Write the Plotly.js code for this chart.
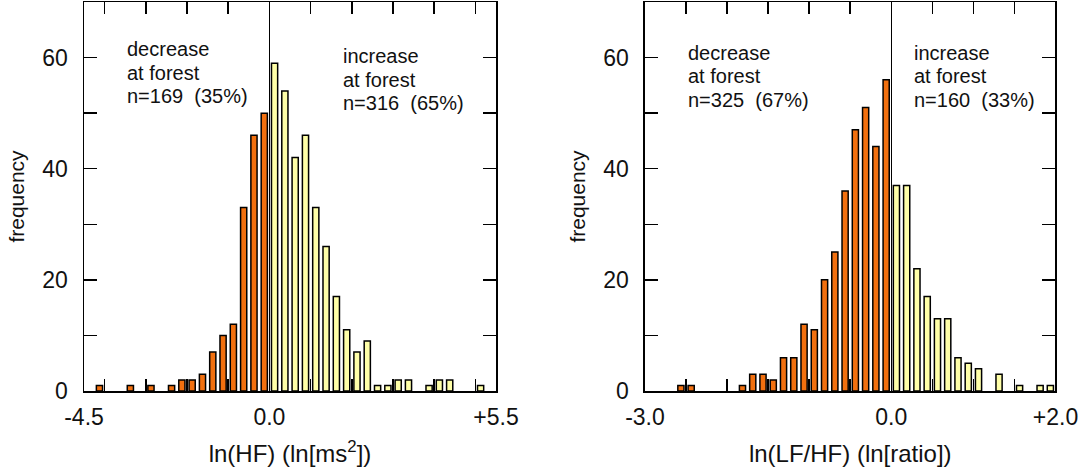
<!DOCTYPE html>
<html>
<head>
<meta charset="utf-8">
<script src="https://cdn.plot.ly/plotly-3.0.1.min.js"></script>
<style>
  html, body { margin: 0; padding: 0; background: #fff; }
  #chart { width: 1084px; height: 472px; }
</style>
</head>
<body>
<div id="chart"></div>
<script>
// ---- left panel: ln(HF), bins of 0.25 ----
var hfDecX = [-4.125, -3.375, -2.875, -2.375, -2.125, -1.875, -1.625, -1.375, -1.125, -0.875, -0.625, -0.375, -0.125];
var hfDecN = [1, 1, 1, 1, 2, 2, 3, 7, 10, 12, 33, 46, 50];
var hfIncX = [0.125, 0.375, 0.625, 0.875, 1.125, 1.375, 1.625, 1.875, 2.125, 2.375, 2.625, 2.875, 3.125, 3.375, 3.875, 4.125, 4.375, 5.125];
var hfIncN = [59, 54, 42, 46, 33, 26, 17, 11, 7, 9, 1, 1, 2, 2, 1, 2, 2, 1];

// ---- right panel: ln(LF/HF), bins of 0.125 ----
var lfDecX = [-2.5625, -2.4375, -1.8125, -1.6875, -1.5625, -1.4375, -1.3125, -1.1875, -1.0625, -0.9375, -0.8125, -0.6875, -0.5625, -0.4375, -0.3125, -0.1875, -0.0625];
var lfDecN = [1, 1, 1, 3, 3, 2, 6, 6, 12, 11, 20, 25, 36, 47, 51, 44, 56];
var lfIncX = [0.0625, 0.1875, 0.3125, 0.4375, 0.5625, 0.6875, 0.8125, 0.9375, 1.0625, 1.3125, 1.5625, 1.8125, 1.9375];
var lfIncN = [37, 37, 22, 17, 13, 13, 6, 5, 4, 3, 1, 1, 1];

// tick positions / labels
var hfTickVals = [-4.5, -4, -3, -2, -1, 0, 1, 2, 3, 4, 5, 5.5];
var hfTickText = ['-4.5', ' ', ' ', ' ', ' ', '0.0', ' ', ' ', ' ', ' ', ' ', '+5.5'];
var lfTickVals = [-3, -2.5, -2, -1.5, -1, -0.5, 0, 0.5, 1, 1.5, 2];
var lfTickText = ['-3.0', ' ', ' ', ' ', ' ', ' ', '0.0', ' ', ' ', ' ', '+2.0'];
var yTickVals = [0, 10, 20, 30, 40, 50, 60];
var yTickText = ['0', ' ', '20', ' ', '40', ' ', '60'];

var labelLines = {
  hfDec: ['decrease', 'at forest', 'n=169  (35%)'],
  hfInc: ['increase', 'at forest', 'n=316  (65%)'],
  lfDec: ['decrease', 'at forest', 'n=325  (67%)'],
  lfInc: ['increase', 'at forest', 'n=160  (33%)']
};

var ORANGE = '#f2700f';
var YELLOW = '#ffffa8';
var FONT = 'Liberation Sans, Arial, sans-serif';

function bars(x, y, color, w, xa, ya) {
  return {
    type: 'bar', x: x, y: y, width: w,
    xaxis: xa, yaxis: ya,
    marker: { color: color, line: { color: '#000', width: 1.5 } },
    hoverinfo: 'x+y', showlegend: false
  };
}

var data = [
  bars(hfDecX, hfDecN, ORANGE, 0.25 * 0.6, 'x', 'y'),
  bars(hfIncX, hfIncN, YELLOW, 0.25 * 0.6, 'x', 'y'),
  bars(lfDecX, lfDecN, ORANGE, 0.125 * 0.6, 'x2', 'y2'),
  bars(lfIncX, lfIncN, YELLOW, 0.125 * 0.6, 'x2', 'y2')
];

function xAxis(dom, range, vals, text, title, anchor) {
  return {
    domain: dom, range: range, anchor: anchor,
    tickmode: 'array', tickvals: vals, ticktext: text, tickangle: 0,
    ticks: 'inside', ticklen: 12, tickwidth: 1.5, tickcolor: '#000',
    ticklabelstandoff: 5,
    showline: true, linecolor: '#000', linewidth: 1.5, mirror: 'allticks',
    showgrid: false, zeroline: true, zerolinecolor: '#000', zerolinewidth: 1.5,
    layer: 'below traces', automargin: false, fixedrange: true,
    tickfont: { size: 23, color: '#111' },
    title: { text: title, font: { size: 24, color: '#111' }, standoff: 16 }
  };
}

function yAxis(anchor) {
  return {
    domain: [0, 1], range: [0, 70], anchor: anchor,
    tickmode: 'array', tickvals: yTickVals, ticktext: yTickText,
    ticks: 'inside', ticklen: 13, tickwidth: 1.5, tickcolor: '#000',
    ticklabelstandoff: 10,
    showline: true, linecolor: '#000', linewidth: 1.5, mirror: 'allticks',
    showgrid: false, zeroline: false,
    layer: 'below traces', automargin: false, fixedrange: true,
    tickfont: { size: 23, color: '#111' },
    title: { text: 'frequency', font: { size: 21, color: '#111' }, standoff: 12 }
  };
}

// annotation blocks, one per text line
function block(lines, x, yTop, xa, ya) {
  return lines.map(function (t, i) {
    return {
      text: t, x: x, y: yTop - i * 4.2, xref: xa, yref: ya,
      xanchor: 'left', yanchor: 'middle', showarrow: false,
      font: { size: 20, color: '#111' }
    };
  });
}

var annotations = []
  .concat(block(labelLines.hfDec, -3.5, 61.5, 'x', 'y'))
  .concat(block(labelLines.hfInc, 1.74, 60.2, 'x', 'y'))
  .concat(block(labelLines.lfDec, -2.5, 60.8, 'x2', 'y2'))
  .concat(block(labelLines.lfInc, 0.25, 60.8, 'x2', 'y2'));

var layout = {
  width: 1084, height: 472,
  margin: { l: 0, r: 0, t: 2, b: 81 },
  paper_bgcolor: '#fff', plot_bgcolor: '#fff',
  font: { family: FONT, color: '#111' },
  barmode: 'overlay',
  xaxis: xAxis([0.0775, 0.4576], [-4.5, 5.5], hfTickVals, hfTickText, 'ln(HF) (ln[ms<sup>2</sup>])', 'y'),
  yaxis: yAxis('x'),
  xaxis2: xAxis([0.5950, 0.9737], [-3, 2], lfTickVals, lfTickText, 'ln(LF/HF) (ln[ratio])', 'y2'),
  yaxis2: yAxis('x2'),
  annotations: annotations
};

Plotly.newPlot('chart', data, layout, { displayModeBar: false, staticPlot: true });
</script>
</body>
</html>
